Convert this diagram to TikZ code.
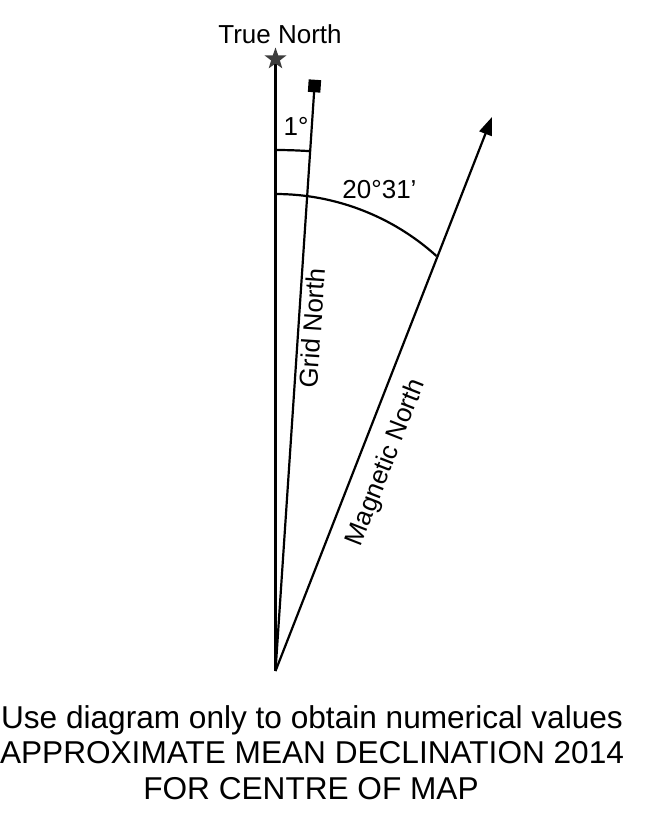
\documentclass[tikz,border=0pt]{standalone}
\usepackage{fontspec}
\setmainfont{Liberation Sans}
\usetikzlibrary{arrows.meta,shapes.geometric}
\definecolor{stargray}{HTML}{3C3C3C}
\begin{document}
\begin{tikzpicture}[x=1pt,y=1pt,
  ln/.style={line width=2.2pt},
  lbl/.style={font=\fontsize{26}{30}\selectfont, inner sep=0pt},
  foot/.style={font=\fontsize{31.6}{36}\selectfont, inner sep=0pt, anchor=base}]
\useasboundingbox (0,0) rectangle (663,-825);
\coordinate (O) at (275.5,-671);
\coordinate (tn) at (275.5,-59);
\coordinate (gn) at (314.5,-86);
\coordinate (mn) at (492,-117);
% lines
\draw[ln] (O) -- (tn);
\draw[ln] (O) -- (gn);
\draw[ln,-{Triangle[length=18pt,width=13pt]}] (O) -- (mn);
% arcs
\draw[ln] (275.5,-150) arc[start angle=90,end angle=86.14,radius=521];
\draw[ln] (275.5,-194) arc[start angle=90,end angle=47.9,radius=240];
% symbols
\node[star, star points=5, star point ratio=2.5, minimum size=23pt, inner sep=0pt, fill=stargray] (star) at (tn) {};
\node[rectangle, minimum size=12.5pt, inner sep=0pt, fill=black, rotate=-3.86] (sq) at (gn) {};
% labels
\node[lbl, anchor=base] (tnl) at (280,-43) {True North};
\node[lbl, anchor=base] (one) at (296,-135) {1°};
\node[lbl, anchor=base] (ang) at (379.5,-198) {20°31’};
\path (O) -- (gn) node[lbl, pos=0.588, sloped, below=4pt] (gnl) {Grid North};
\path (O) -- (mn) node[lbl, pos=0.394, sloped, below=15.5pt] (mnl) {Magnetic North};
% footer
\node[foot] (f1) at (312,-728) {Use diagram only to obtain numerical values};
\node[foot] (f2) at (312,-763.5) {APPROXIMATE MEAN DECLINATION 2014};
\node[foot] (f3) at (311,-799) {FOR CENTRE OF MAP};
\end{tikzpicture}
\end{document}
